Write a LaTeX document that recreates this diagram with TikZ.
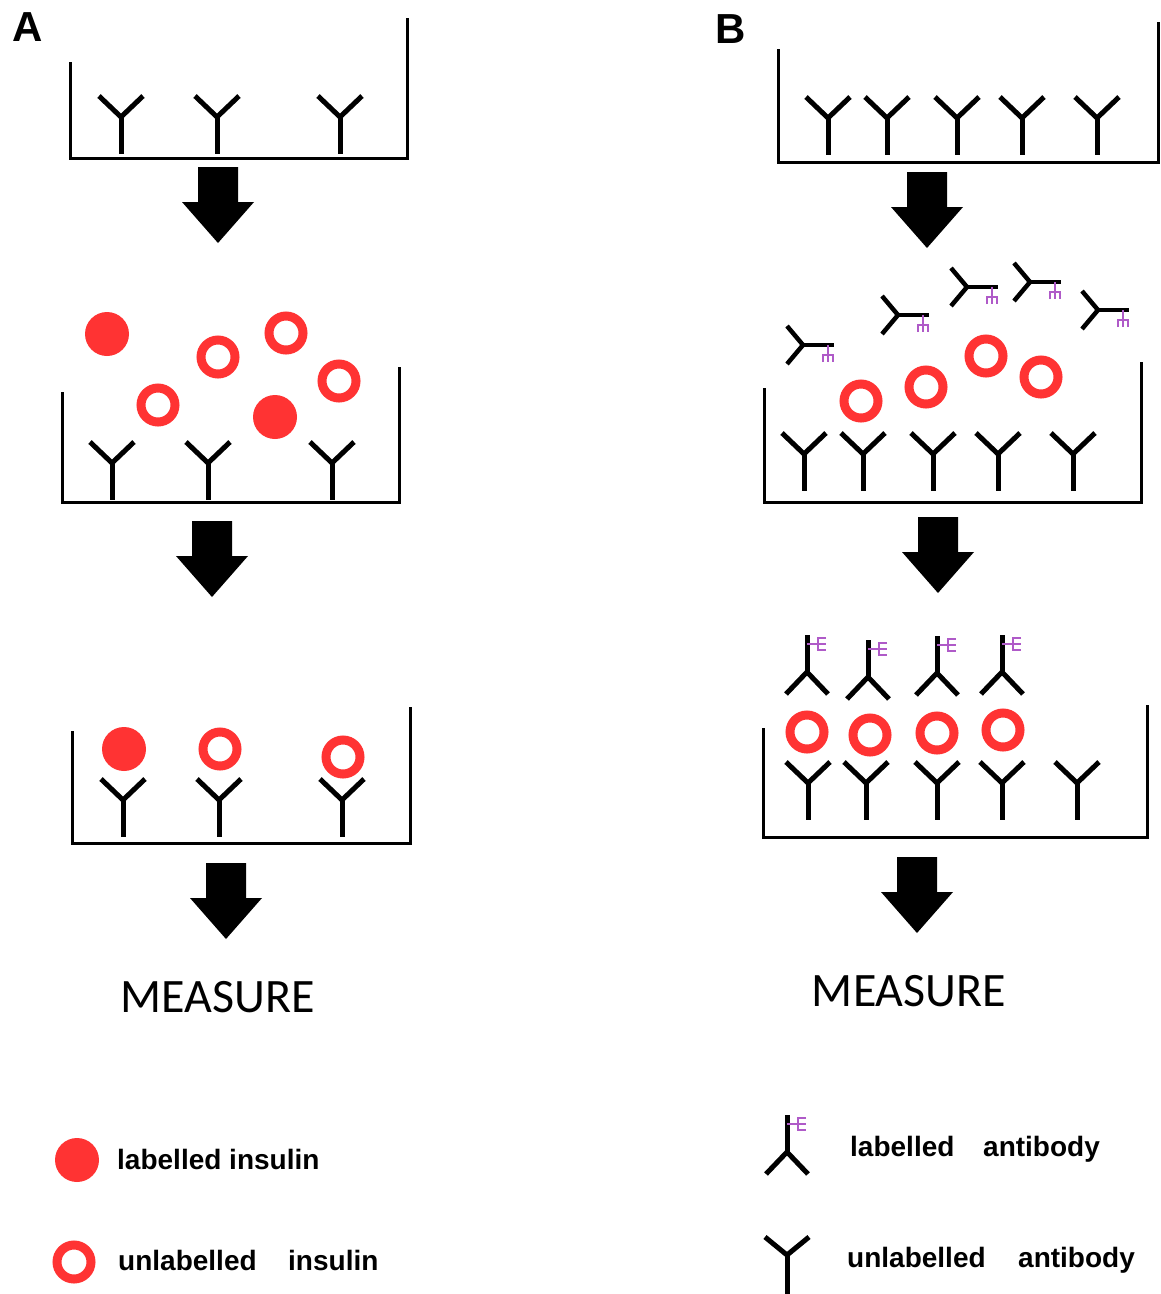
\documentclass[tikz,border=0pt]{standalone}
\usepackage{fontspec}
\setmainfont{Liberation Sans}
\newfontfamily\measurefont{Carlito}
\definecolor{insred}{RGB}{255,51,51}
\definecolor{tagpurple}{RGB}{175,90,200}
\tikzset{
  abline/.style={line width=5pt},
  wall/.style={line width=3pt, line join=miter},
  tagline/.style={tagpurple, line width=1.6pt},
  % unlabelled antibody: junction at origin, arms up, stem down
  ab/.pic={
    \draw[abline] (-22,-21) -- (0,0) -- (22,-21);
    \draw[abline] (0,0) -- (0,37);
  },
  % labelled antibody, upright: stem up with the tag, arms down
  labab/.pic={
    \draw[abline] (-21,22) -- (0,0) -- (21,22);
    \draw[abline] (0,0) -- (0,-37);
    \draw[tagline] (0,-28) -- (11,-28) (19,-34) -- (11,-34) -- (11,-22) -- (19,-22) (11,-28) -- (19,-28);
  },
  % labelled antibody lying sideways: arms left, stem right, tag below
  labside/.pic={
    \draw[line width=4.5pt] (-16,-19) -- (0,0) -- (-16,19);
    \draw[line width=4.5pt] (0,0) -- (31,0);
    \draw[tagline] (25,0) -- (25,10) (20,17) -- (20,10) -- (30,10) -- (30,17) (25,10) -- (25,17);
  },
  bead/.pic={\fill[insred] (0,0) circle[radius=22];},
  ring/.pic={\draw[insred, line width=9pt] (0,0) circle[radius=17];},
  downarrow/.pic={\fill[black] (-20,0) -- (20,0) -- (20,35) -- (36,35) -- (0,76) -- (-36,35) -- (-20,35) -- cycle;},
  legendtext/.style={anchor=base west, inner sep=0pt, font=\bfseries\fontsize{28}{34}\selectfont},
  measure/.style={anchor=base, inner sep=0pt, font=\measurefont\fontsize{48}{56}\selectfont},
  panel/.style={anchor=base west, inner sep=0pt, font=\bfseries\fontsize{42}{48}\selectfont}
}
\begin{document}
\begin{tikzpicture}[x=1pt, y=-1pt]
\useasboundingbox (0,0) rectangle (1161,1294);
\fill[white] (0,0) rectangle (1161,1294);

% ---------- panel A ----------
\node[panel] (labA) at (12,41) {A};

% well 1: capture antibodies only
\draw[wall] (70,62) -- (70,158) -- (407,158) -- (407,18);
\foreach \x in {121,217,340} \pic at (\x,117) {ab};
\pic at (218,167) {downarrow};

% well 2: labelled and unlabelled insulin added
\draw[wall] (62,392) -- (62,502) -- (399,502) -- (399,367);
\foreach \x in {112,208,332} \pic at (\x,463) {ab};
\pic at (107,334) {bead};
\pic at (275,417) {bead};
\pic at (218,357) {ring};
\pic at (286,333) {ring};
\pic at (339,381) {ring};
\pic at (158,405) {ring};
\pic at (212,521) {downarrow};

% well 3: insulin bound to the antibodies
\draw[wall] (72,731) -- (72,843) -- (410,843) -- (410,707);
\foreach \x in {123,219,342} \pic at (\x,800) {ab};
\pic at (124,749) {bead};
\pic at (220,749) {ring};
\pic at (343,757) {ring};
\pic at (226,863) {downarrow};

\node[measure] (measA) at (218,1012) {MEASURE};

% ---------- panel B ----------
\node[panel] (labB) at (715,43) {B};

% well 1: capture antibodies only
\draw[wall] (778,49) -- (778,162) -- (1158,162) -- (1158,22);
\foreach \x in {828,887,957,1022,1097} \pic at (\x,118) {ab};
\pic at (927,172) {downarrow};

% well 2: insulin and labelled antibodies added
\draw[wall] (764,388) -- (764,502) -- (1141,502) -- (1141,362);
\foreach \x in {804,863,933,998,1073} \pic at (\x,454) {ab};
\pic at (803,345) {labside};
\pic at (898,315) {labside};
\pic at (967,287) {labside};
\pic at (1030,282) {labside};
\pic at (1098,310) {labside};
\pic at (861,401) {ring};
\pic at (926,387) {ring};
\pic at (986,356) {ring};
\pic at (1041,377) {ring};
\pic at (938,517) {downarrow};

% well 3: sandwich complexes
\draw[wall] (763,728) -- (763,837) -- (1147,837) -- (1147,705);
\foreach \x in {808,866,937,1002,1077} \pic at (\x,783) {ab};
\pic at (807,732) {ring};
\pic at (870,735) {ring};
\pic at (937,733) {ring};
\pic at (1003,730) {ring};
\pic at (807,672) {labab};
\pic at (868,677) {labab};
\pic at (937,673) {labab};
\pic at (1002,672) {labab};
\pic at (917,857) {downarrow};

\node[measure] (measB) at (909,1006) {MEASURE};

% ---------- legend ----------
\pic at (77,1160) {bead};
\node[legendtext] (lgLab) at (117,1169) {labelled insulin};
\pic at (74,1262) {ring};
\node[legendtext] (lgUnlab) at (118,1270) {unlabelled};
\node[legendtext] (lgIns) at (288,1270) {insulin};

\pic at (787,1152) {labab};
\node[legendtext] (lgLabAb1) at (850,1156) {labelled};
\node[legendtext] (lgLabAb2) at (983,1156) {antibody};
\draw[abline] (765,1237) -- (787,1255) -- (809,1237);
\draw[abline] (787,1255) -- (787,1294);
\node[legendtext] (lgUnAb1) at (847,1267) {unlabelled};
\node[legendtext] (lgUnAb2) at (1018,1267) {antibody};
\end{tikzpicture}
\end{document}
